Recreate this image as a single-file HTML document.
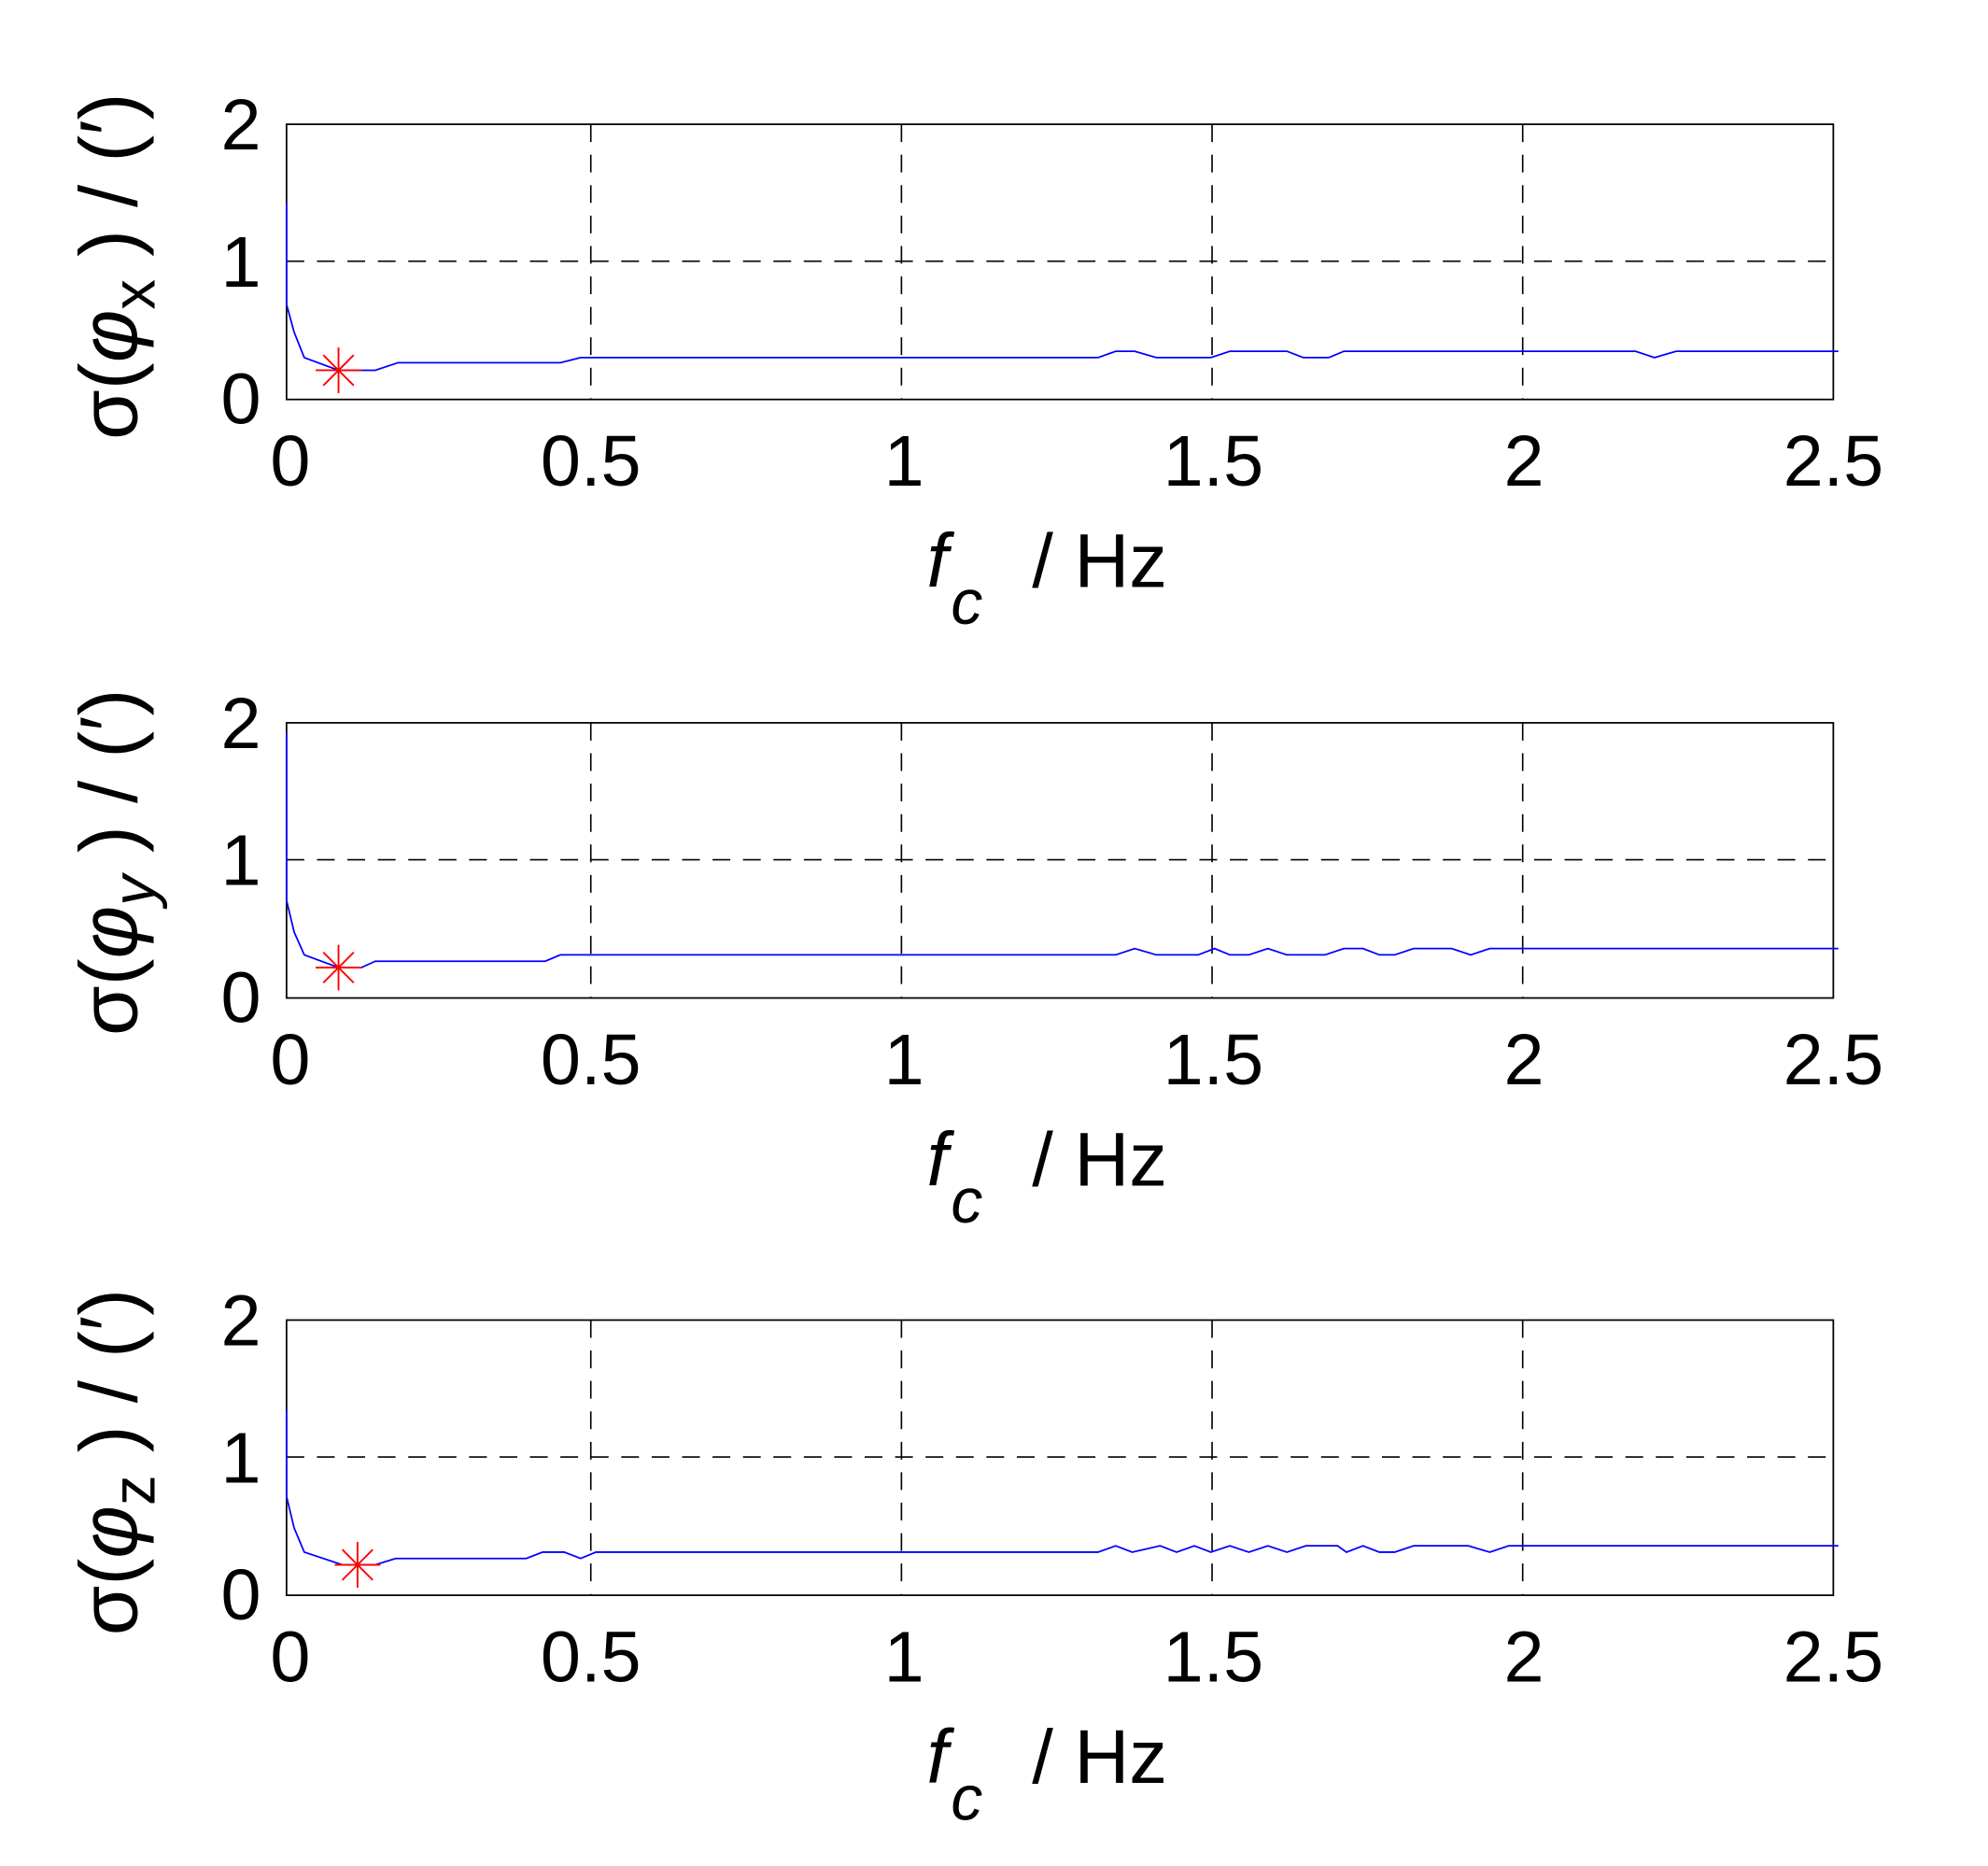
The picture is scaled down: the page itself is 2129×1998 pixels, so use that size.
<!DOCTYPE html>
<html><head><meta charset="utf-8"><style>html,body{margin:0;padding:0;background:#fff}svg{display:block}</style></head>
<body>
<svg width="2129" height="1998" viewBox="0 0 1568 1471.5" preserveAspectRatio="none" xmlns="http://www.w3.org/2000/svg" font-family="Liberation Sans, Arial, sans-serif">
<rect width="1568" height="1472" fill="#fff"/>
<defs>
<g id="grid">
<g stroke="#000" stroke-width="1.2" stroke-dasharray="14,10" fill="none">
<line x1="466" y1="0" x2="466" y2="217"/>
<line x1="711" y1="0" x2="711" y2="217"/>
<line x1="956" y1="0" x2="956" y2="217"/>
<line x1="1201" y1="0" x2="1201" y2="217"/>
<line x1="226" y1="108" x2="1446" y2="108"/>
</g>
<rect x="226" y="0" width="1220" height="217" fill="none" stroke="#000" stroke-width="1.3"/>
<g font-size="57" text-anchor="middle" fill="#000">
<text x="190" y="20">2</text>
<text x="190" y="128">1</text>
<text x="190" y="236">0</text>
<text x="229" y="285">0</text>
<text x="466" y="285">0.5</text>
<text x="713" y="285">1</text>
<text x="957" y="285">1.5</text>
<text x="1202" y="285">2</text>
<text x="1446" y="285">2.5</text>
</g>
<text x="731" y="365" font-size="60" font-style="italic">f</text>
<text x="750" y="394" font-size="50" font-style="italic">c</text>
<text x="814" y="365" font-size="60">/ Hz</text>
</g>
</defs>

<!-- Panel 1 -->
<g transform="translate(0,98)"><use href="#grid"/></g>
<text transform="translate(108,210) rotate(-90)" font-size="64" text-anchor="middle">σ(<tspan font-style="italic">φ</tspan><tspan font-size="48" dy="14">x</tspan><tspan dy="-14"> ) / (′)</tspan></text>
<polyline fill="none" stroke="#00f" stroke-width="1.3" points="226,160 226,240 232,262 240,282 267,292 296,292 314,286 442,286 458,282 866,282 880,277 895,277 912,282 955,282 970,277 1015,277 1028,282 1048,282 1060,277 1290,277 1305,282 1322,277 1450,277"/>
<g stroke="#f00" stroke-width="1.4"><line x1="267" y1="274" x2="267" y2="310"/><line x1="249" y1="292" x2="285" y2="292"/><line x1="255" y1="280" x2="279" y2="304"/><line x1="255" y1="304" x2="279" y2="280"/></g>

<!-- Panel 2 -->
<g transform="translate(0,570)"><use href="#grid"/></g>
<text transform="translate(108,680) rotate(-90)" font-size="64" text-anchor="middle">σ(<tspan font-style="italic">φ</tspan><tspan font-size="48" dy="14" font-style="italic">y</tspan><tspan dy="-14"> ) / (′)</tspan></text>
<polyline fill="none" stroke="#00f" stroke-width="1.3" points="226,578 226,710 232,735 240,753 267,763 285,763 296,758 430,758 442,753 880,753 895,748 912,753 945,753 958,748 970,753 985,753 1000,748 1015,753 1045,753 1060,748 1075,748 1088,753 1100,753 1115,748 1145,748 1160,753 1175,748 1450,748"/>
<g stroke="#f00" stroke-width="1.4"><line x1="267" y1="745" x2="267" y2="781"/><line x1="249" y1="763" x2="285" y2="763"/><line x1="255" y1="751" x2="279" y2="775"/><line x1="255" y1="775" x2="279" y2="751"/></g>

<!-- Panel 3 -->
<g transform="translate(0,1041)"><use href="#grid"/></g>
<text transform="translate(108,1153) rotate(-90)" font-size="64" text-anchor="middle">σ(<tspan font-style="italic">φ</tspan><tspan font-size="48" dy="14">z</tspan><tspan dy="-14"> ) / (′)</tspan></text>
<polyline fill="none" stroke="#00f" stroke-width="1.3" points="226,1112 226,1180 232,1205 240,1224 270,1234 296,1234 312,1229 415,1229 428,1224 445,1224 458,1229 470,1224 866,1224 880,1219 893,1224 915,1219 928,1224 942,1219 955,1224 970,1219 985,1224 1000,1219 1015,1224 1030,1219 1055,1219 1062,1224 1075,1219 1088,1224 1100,1224 1115,1219 1158,1219 1175,1224 1190,1219 1450,1219"/>
<g stroke="#f00" stroke-width="1.4"><line x1="282" y1="1216" x2="282" y2="1252"/><line x1="264" y1="1234" x2="300" y2="1234"/><line x1="270" y1="1222" x2="294" y2="1246"/><line x1="270" y1="1246" x2="294" y2="1222"/></g>
</svg>
</body></html>
